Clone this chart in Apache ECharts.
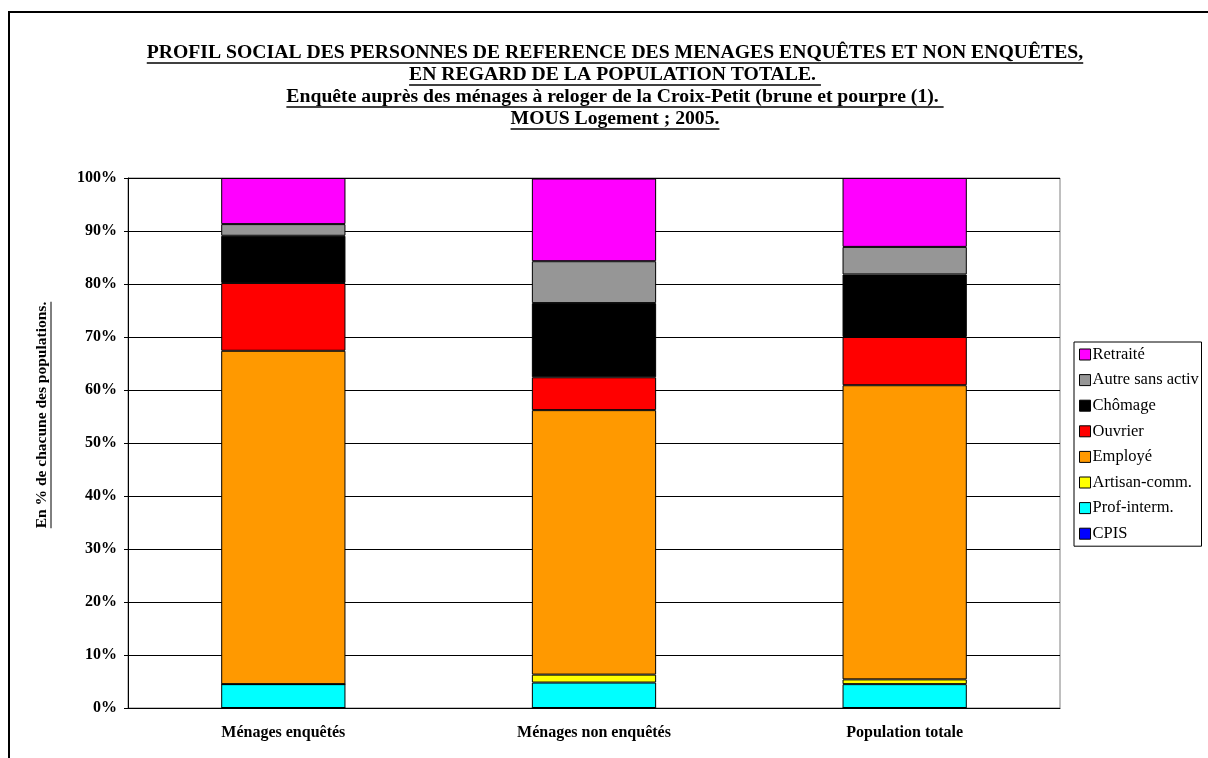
<!DOCTYPE html>
<html>
<head>
<meta charset="utf-8">
<script src="https://cdn.jsdelivr.net/npm/echarts@6/dist/echarts.min.js"></script>
<style>
  html, body { margin: 0; padding: 0; background: #fff; }
  #chart { width: 1208px; height: 758px; }
</style>
</head>
<body>
<div id="chart"></div>
<script>
// categories and series values (% of each population)
var categories = ['Ménages enquêtés', 'Ménages non enquêtés', 'Population totale'];
var seriesNames = ['CPIS', 'Prof-interm.', 'Artisan-comm.', 'Employé', 'Ouvrier', 'Chômage', 'Autre sans activ', 'Retraité'];
var cpis      = [0, 0, 0];
var profInterm = [4.5, 4.8, 4.5];
var artisan   = [0, 1.5, 0.9];
var employe   = [62.9, 49.9, 55.5];
var ouvrier   = [12.8, 6.2, 9.1];
var chomage   = [8.9, 14.0, 11.8];
var autre     = [2.2, 7.9, 5.2];
var retraite  = [8.7, 15.6, 13.0];
var yTicks = [0, 10, 20, 30, 40, 50, 60, 70, 80, 90, 100];

var titleLines = [
  'PROFIL SOCIAL DES PERSONNES DE REFERENCE DES MENAGES ENQUÊTES ET NON ENQUÊTES,',
  'EN REGARD DE LA POPULATION TOTALE. ',
  'Enquête auprès des ménages à reloger de la Croix-Petit (brune et pourpre (1). ',
  'MOUS Logement ; 2005.'
];
var yName = 'En % de chacune des populations.';

var allValues = [cpis, profInterm, artisan, employe, ouvrier, chomage, autre, retraite];
var colors = ['#0000ff', '#00ffff', '#ffff00', '#ff9900', '#ff0000', '#000000', '#969696', '#ff00ff'];

var serif = '"Liberation Serif", "Times New Roman", serif';

// measure text width for underlines
var ctx = document.createElement('canvas').getContext('2d');
function textWidth(str, font) {
  ctx.font = font;
  return ctx.measureText(str).width;
}

var myChart = echarts.init(document.getElementById('chart'));

var graphics = [];
// outer frame (left + top)
graphics.push({
  type: 'polyline',
  shape: { points: [[9, 758], [9, 12], [1208, 12]] },
  style: { stroke: '#000', lineWidth: 2, fill: null },
  silent: true
});

var titleFont = 'bold 19.7px ' + serif;
titleLines.forEach(function (line, i) {
  var cy = 53 + i * 22;
  var w = textWidth(line, titleFont);
  graphics.push({
    type: 'text',
    x: 615, y: cy,
    style: { text: line, font: titleFont, fill: '#000', textAlign: 'center', textVerticalAlign: 'middle' },
    silent: true
  });
  graphics.push({
    type: 'line',
    shape: { x1: 615 - w / 2, y1: cy + 10, x2: 615 + w / 2, y2: cy + 10 },
    style: { stroke: '#000', lineWidth: 1.5 },
    silent: true
  });
});

// rotated y-axis name, underlined
var yFont = 'bold 15.5px ' + serif;
var yw = textWidth(yName, yFont);
graphics.push({
  type: 'group',
  x: 42, y: 415,
  rotation: Math.PI / 2,
  children: [
    {
      type: 'text',
      x: 0, y: 0,
      style: { text: yName, font: yFont, fill: '#000', textAlign: 'center', textVerticalAlign: 'middle' }
    },
    {
      type: 'line',
      shape: { x1: -yw / 2, y1: 9, x2: yw / 2, y2: 9 },
      style: { stroke: '#000', lineWidth: 1 }
    }
  ],
  silent: true
});

var series = seriesNames.map(function (name, i) {
  return {
    name: name,
    type: 'bar',
    stack: 'total',
    barWidth: '40%',
    data: allValues[i],
    itemStyle: { color: colors[i], borderColor: '#000', borderWidth: 1 },
    emphasis: { disabled: true }
  };
});

var option = {
  backgroundColor: '#fff',
  animation: false,
  graphic: graphics,
  grid: {
    left: 128, right: 148, top: 178, bottom: 50,
    show: true, borderColor: '#808080', borderWidth: 1
  },
  legend: {
    orient: 'vertical',
    left: 1074, top: 342,
    data: seriesNames.slice().reverse(),
    icon: 'rect',
    itemWidth: 11, itemHeight: 11,
    itemGap: 8.6,
    padding: [4, 0, 4, 5],
    borderColor: '#000', borderWidth: 1,
    itemStyle: { borderColor: '#000', borderWidth: 1 },
    textStyle: {
      fontFamily: serif, fontSize: 16.5, color: '#000', lineHeight: 17,
      width: 109, overflow: 'truncate', ellipsis: '', padding: [0, 0, 0, -3]
    },
    selectedMode: false
  },
  xAxis: {
    type: 'category',
    data: categories,
    axisLine: { lineStyle: { color: '#000' } },
    axisTick: { length: 5, lineStyle: { color: '#000' } },
    axisLabel: { fontFamily: serif, fontWeight: 'bold', fontSize: 16, color: '#000', margin: 17 }
  },
  yAxis: {
    type: 'value',
    min: yTicks[0], max: yTicks[yTicks.length - 1], interval: yTicks[1] - yTicks[0],
    axisLine: { show: true, lineStyle: { color: '#000' } },
    axisTick: { show: true, length: 4, lineStyle: { color: '#000' } },
    splitLine: { lineStyle: { color: '#000', width: 1 } },
    axisLabel: { formatter: '{value}%', fontFamily: serif, fontWeight: 'bold', fontSize: 16, color: '#000', margin: 11 }
  },
  series: series
};

myChart.setOption(option);
</script>
</body>
</html>
